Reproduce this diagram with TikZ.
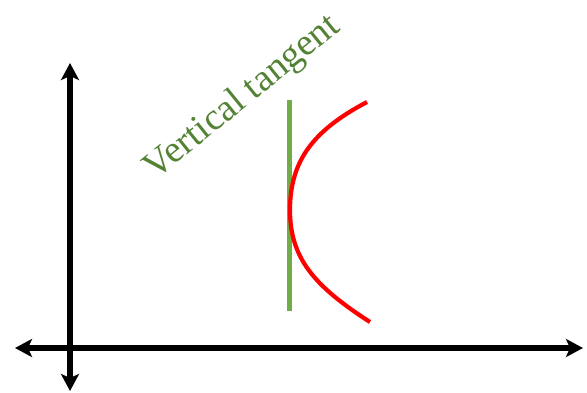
\documentclass[tikz,border=0pt]{standalone}
\usepackage{fontspec}
\setmainfont{Liberation Serif}
\usetikzlibrary{arrows.meta}
\definecolor{tangentgreen}{HTML}{70AD47}
\definecolor{labelgreen}{HTML}{548235}
\definecolor{curvered}{HTML}{FF0000}

\begin{document}
\begin{tikzpicture}[x=1pt,y=-1pt,
  axis/.style={line width=5.5pt,{Stealth[length=17pt,width=18pt,inset=4pt]}-{Stealth[length=17pt,width=18pt,inset=4pt]}}]
  \useasboundingbox (0,0) rectangle (587,392);
  % axes
  \coordinate (xl) at (15,348);
  \coordinate (xr) at (583,348);
  \coordinate (yt) at (70,63);
  \coordinate (yb) at (70,391);
  \draw[axis] (xl) -- (xr);
  \draw[axis] (yb) -- (yt);
  % tangent line
  \coordinate (tt) at (289,100);
  \coordinate (tb) at (289,311);
  \draw[tangentgreen,line width=5pt] (tt) -- (tb);
  % curve
  \coordinate (ct) at (367,102);
  \coordinate (cm) at (290,210);
  \coordinate (cb) at (370,322);
  \draw[curvered,line width=4.2pt] (ct) .. controls (314,130) and (290,160) .. (cm)
    .. controls (290,258) and (314,286) .. (cb);
  \node[labelgreen,font=\fontsize{38}{38}\selectfont,rotate=39] (lab) at (243,98) {Vertical tangent};
\end{tikzpicture}
\end{document}
